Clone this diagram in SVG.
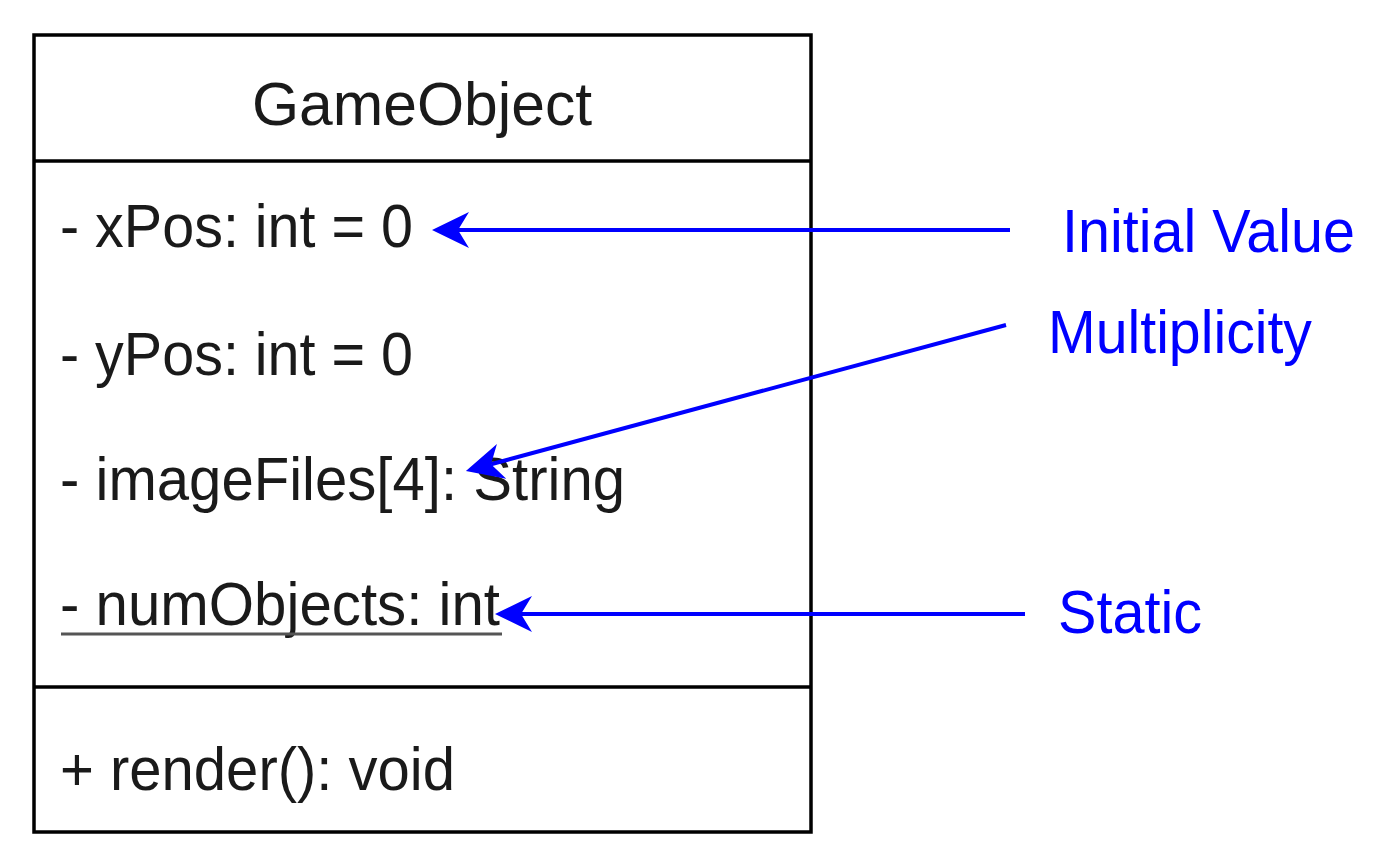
<svg xmlns="http://www.w3.org/2000/svg" width="1392" height="868" viewBox="0 0 1392 868">
<style>
.box{fill:#fff;stroke:#000;stroke-width:3.5}
.div{stroke:#000;stroke-width:3.5}
.t{font-family:"Liberation Sans",Arial,sans-serif;font-size:61px;fill:#1a1a1a}
.lbl{font-family:"Liberation Sans",Arial,sans-serif;font-size:61px;fill:#0000ff}
.conn{stroke:#0000ff;stroke-width:4;fill:none}
</style>
<defs>
<marker id="arr" markerUnits="userSpaceOnUse" markerWidth="40" markerHeight="38" refX="11" refY="18" orient="auto" viewBox="0 0 40 38">
<path d="M37,18 L0,0 L11,18 L0,36 Z" fill="#0000ff"/>
</marker>
</defs>
<rect width="1392" height="868" fill="#fff"/>
<g id="GameObject">
<rect class="box" x="34" y="35" width="777" height="797"/>
<line class="div" x1="34" y1="161" x2="811" y2="161"/>
<line class="div" x1="34" y1="687" x2="811" y2="687"/>
<text class="t" x="422" y="125" text-anchor="middle" textLength="340" lengthAdjust="spacingAndGlyphs">GameObject</text>
<text class="t" x="60" y="247" textLength="353" lengthAdjust="spacingAndGlyphs">- xPos: int = 0</text>
<text class="t" x="60" y="375" textLength="353" lengthAdjust="spacingAndGlyphs">- yPos: int = 0</text>
<text class="t" x="60" y="500" textLength="565" lengthAdjust="spacingAndGlyphs">- imageFiles[4]: String</text>
<text class="t" x="60" y="625" textLength="440" lengthAdjust="spacingAndGlyphs">- numObjects: int</text>
<line x1="61" y1="634" x2="502" y2="634" stroke="#555" stroke-width="3"/>
<text class="t" x="60" y="790" textLength="395" lengthAdjust="spacingAndGlyphs">+ render(): void</text>
</g>
<g id="label-initial">
<text class="lbl" x="1062" y="252" textLength="293" lengthAdjust="spacingAndGlyphs">Initial Value</text>
</g>
<g id="label-multiplicity">
<text class="lbl" x="1048" y="353" textLength="264" lengthAdjust="spacingAndGlyphs">Multiplicity</text>
</g>
<g id="label-static">
<text class="lbl" x="1058" y="633" textLength="144" lengthAdjust="spacingAndGlyphs">Static</text>
</g>
<g id="connectors">
<line class="conn" x1="1010" y1="230" x2="458" y2="230" marker-end="url(#arr)"/>
<line class="conn" x1="1006" y1="325" x2="491" y2="464.2" marker-end="url(#arr)"/>
<line class="conn" x1="1025" y1="614" x2="521" y2="614" marker-end="url(#arr)"/>
</g>
</svg>
